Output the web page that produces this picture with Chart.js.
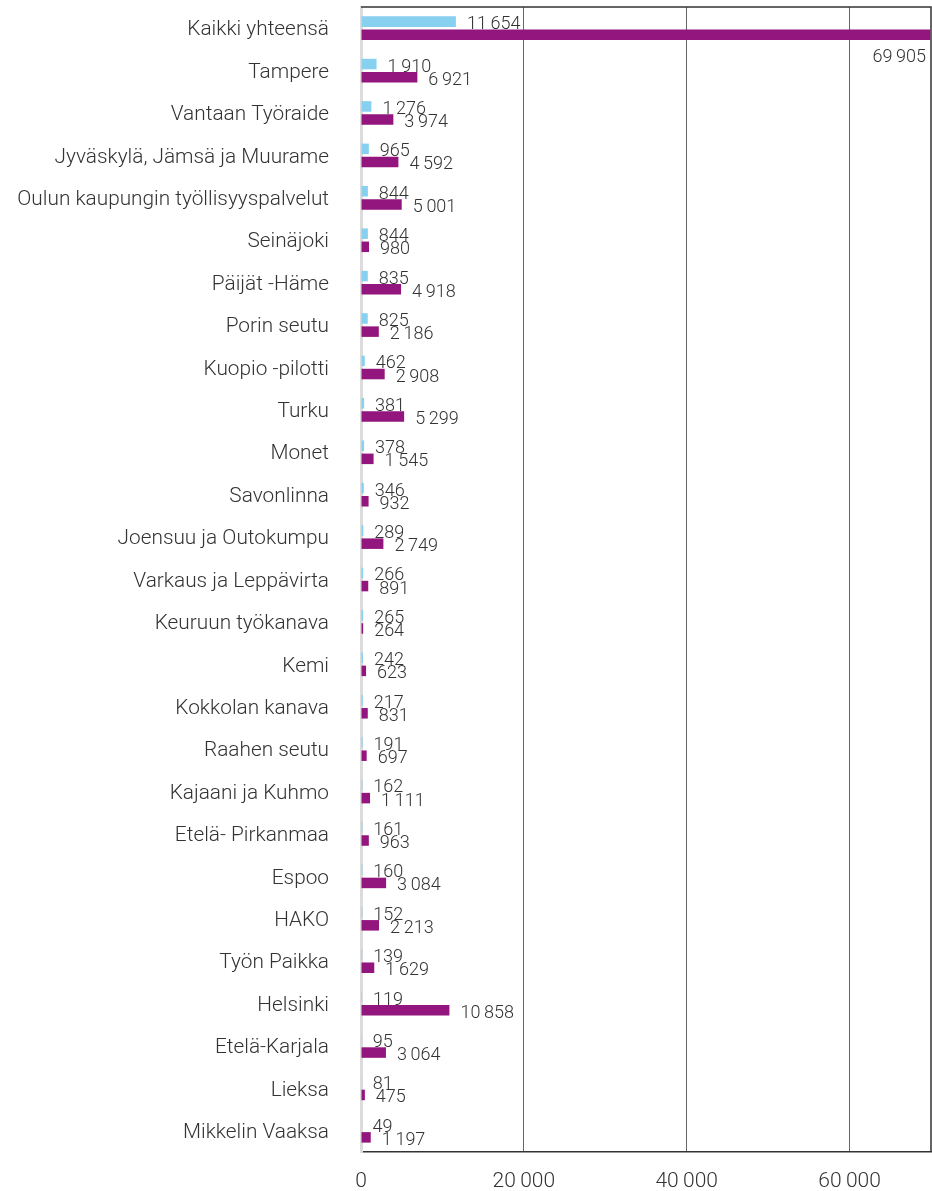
<!DOCTYPE html>
<html lang="fi">
<head>
  <meta charset="UTF-8" />
  <title>Asiakkaat</title>
  <script src="https://cdn.jsdelivr.net/npm/chart.js"></script>
  <style>
    body { margin: 0; padding: 0; background: #fff; }
    .wrap { width: 932px; height: 1191px; position: relative; }
  </style>
</head>
<body>
  <div class="wrap"><canvas id="chart"></canvas></div>

  <script>
    const categories = [
      "Kaikki yhteensä", "Tampere", "Vantaan Työraide", "Jyväskylä, Jämsä ja Muurame",
      "Oulun kaupungin työllisyyspalvelut", "Seinäjoki", "Päijät -Häme", "Porin seutu",
      "Kuopio -pilotti", "Turku", "Monet", "Savonlinna", "Joensuu ja Outokumpu",
      "Varkaus ja Leppävirta", "Keuruun työkanava", "Kemi", "Kokkolan kanava",
      "Raahen seutu", "Kajaani ja Kuhmo", "Etelä- Pirkanmaa", "Espoo", "HAKO",
      "Työn Paikka", "Helsinki", "Etelä-Karjala", "Lieksa", "Mikkelin Vaaksa"
    ];
    const blueValues = [
      11654, 1910, 1276, 965, 844, 844, 835, 825, 462, 381, 378, 346, 289,
      266, 265, 242, 217, 191, 162, 161, 160, 152, 139, 119, 95, 81, 49
    ];
    const purpleValues = [
      69905, 6921, 3974, 4592, 5001, 980, 4918, 2186, 2908, 5299, 1545, 932, 2749,
      891, 264, 623, 831, 697, 1111, 963, 3084, 2213, 1629, 10858, 3064, 475, 1197
    ];
    const xTicks = [0, 20000, 40000, 60000];

    const FONT = "Roboto, 'Liberation Sans', Arial, sans-serif";
    const TEXT = "#333";

    function fmt(v) {
      return String(v).replace(/\B(?=(\d{3})+(?!\d))/g, "\u2009");
    }

    // value labels next to bar ends
    const valueLabels = {
      id: "valueLabels",
      afterDatasetsDraw(chart) {
        const ctx = chart.ctx;
        const area = chart.chartArea;
        ctx.save();
        ctx.font = "300 18px " + FONT;
        ctx.fillStyle = TEXT;
        ctx.textBaseline = "middle";
        chart.data.datasets.forEach((ds, di) => {
          chart.getDatasetMeta(di).data.forEach((bar, i) => {
            const txt = fmt(ds.data[i]);
            const w = ctx.measureText(txt).width;
            if (bar.x + 11 + w > area.right) {
              ctx.textAlign = "right";
              ctx.fillText(txt, area.right - 5, bar.y + 23);
            } else {
              ctx.textAlign = "left";
              ctx.fillText(txt, bar.x + 11, bar.y + 3);
            }
          });
        });
        ctx.restore();
      }
    };

    // top and right frame lines
    const frame = {
      id: "frame",
      beforeDatasetsDraw(chart) {
        const { ctx, chartArea: a } = chart;
        ctx.save();
        ctx.strokeStyle = "#333";
        ctx.lineWidth = 1.5;
        ctx.beginPath();
        ctx.moveTo(a.left, a.top);
        ctx.lineTo(a.right, a.top);
        ctx.lineTo(a.right, a.bottom);
        ctx.stroke();
        ctx.restore();
      }
    };

    new Chart(document.getElementById("chart"), {
      type: "bar",
      data: {
        labels: categories,
        datasets: [
          { label: "Sininen", data: blueValues, backgroundColor: "#87d0f0",
            categoryPercentage: 0.62, barPercentage: 0.8 },
          { label: "Violetti", data: purpleValues, backgroundColor: "#93157e",
            categoryPercentage: 0.62, barPercentage: 0.8 }
        ]
      },
      options: {
        indexAxis: "y",
        responsive: true,
        maintainAspectRatio: false,
        animation: false,
        layout: { padding: { top: 7, right: 1, left: 0, bottom: 0 } },
        plugins: { legend: { display: false }, tooltip: { enabled: false } },
        scales: {
          x: {
            min: 0,
            max: 70000,
            afterBuildTicks(s) { s.ticks = xTicks.map(v => ({ value: v })); },
            afterFit(s) { s.height = 39; s.paddingLeft = 0; s.paddingRight = 0; },
            grid: {
              drawTicks: false,
              color: c => (c.tick && c.tick.value === 0 ? "rgba(0,0,0,0)" : "#666"),
              lineWidth: 1
            },
            border: { color: "#333", width: 1.5 },
            ticks: {
              padding: 17,
              color: TEXT,
              font: { family: FONT, size: 21, weight: 300 },
              callback: v => fmt(v)
            }
          },
          y: {
            afterFit(s) { s.width = 361; s.paddingTop = 0; s.paddingBottom = 0; },
            grid: { display: false, drawTicks: false },
            border: { color: "#dcdcdc", width: 3 },
            ticks: {
              padding: 32,
              labelOffset: 2,
              color: TEXT,
              font: { family: FONT, size: 20.8, weight: 300 },
              autoSkip: false
            }
          }
        }
      },
      plugins: [frame, valueLabels]
    });
  </script>
</body>
</html>
